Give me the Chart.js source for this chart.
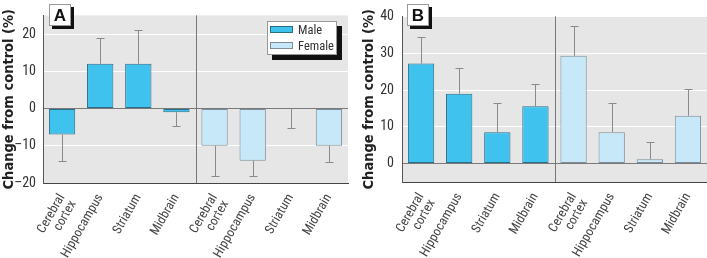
<!DOCTYPE html>
<html><head><meta charset="utf-8">
<script src="https://cdn.jsdelivr.net/npm/chart.js@4/dist/chart.umd.min.js"></script>
<style>
body{margin:0;background:#fff;width:707px;height:258px;overflow:hidden;position:relative;font-family:"Roboto Condensed","DejaVu Sans Condensed",sans-serif}
canvas{position:absolute;top:0}
#ca{left:0}
#cb{left:355px}
.tag{position:absolute;top:4px;width:20px;height:20px;background:#fff;border:1px solid #999;box-shadow:3px 3px 0 #111;font:bold 17px "Liberation Sans",Arial,sans-serif;text-align:center;line-height:21px;color:#111}
.legend{position:absolute;left:267px;top:21px;width:70px;height:34px;box-sizing:border-box;background:#fff;border:1px solid #999;box-shadow:5px 5px 0 #111;font-size:12.5px;color:#333}
.legend div{position:absolute;left:2px;height:16px;line-height:16px;white-space:nowrap}
.legend span{display:inline-block;width:21px;height:5px;border:1px solid #2b6c86;vertical-align:middle;margin-right:5px;position:relative;top:-1px}
</style></head>
<body>
<canvas id="ca" width="355" height="258"></canvas>
<canvas id="cb" width="352" height="258"></canvas>
<div class="tag" style="left:49px">A</div>
<div class="tag" style="left:407px">B</div>
<div class="legend">
 <div style="top:0px"><span style="background:#3fc3ee"></span>Male</div>
 <div style="top:16px"><span style="background:#c6e8f8;border-color:#7d8c96"></span>Female</div>
</div>
<script>
const regions = [['Cerebral','cortex'],'Hippocampus','Striatum','Midbrain'];
const maleA = [-7, 12, 12, -1];
const maleAErr = [-14, 19, 21, -4.7];
const femaleA = [-10, -14, 0, -10];
const femaleAErr = [-18, -18, -5.2, -14.3];
const maleB = [27.2, 19, 8.5, 15.6];
const maleBErr = [34.4, 26, 16.6, 21.7];
const femaleB = [29.3, 8.5, 1.2, 13];
const femaleBErr = [37.3, 16.6, 5.9, 20.2];
const ticksA = [-20, -10, 0, 10, 20];
const ticksB = [0, 10, 20, 30, 40];

const MALE = '#3fc3ee', MALE_B = '#2b6c86', FEM = '#c6e8f8', FEM_B = '#7d8c96';
const FONT = '"Roboto Condensed","DejaVu Sans Condensed",sans-serif';
const TFONT = '"DejaVu Sans Condensed","Roboto Condensed",sans-serif';

const panelPlugin = {
  id: 'panel',
  beforeDraw(chart) {
    const {ctx, chartArea: a} = chart;
    ctx.save(); ctx.fillStyle = '#e6e6e6';
    ctx.fillRect(a.left, a.top, a.right - a.left, a.bottom - a.top);
    ctx.restore();
  },
  beforeDatasetsDraw(chart) {
    const {ctx, chartArea: a} = chart;
    const x = chart.scales.x;
    const sx = (x.getPixelForValue(3) + x.getPixelForValue(4)) / 2;
    ctx.save(); ctx.strokeStyle = '#777'; ctx.lineWidth = 1;
    ctx.beginPath(); ctx.moveTo(Math.round(sx) + 0.5, a.top); ctx.lineTo(Math.round(sx) + 0.5, a.bottom); ctx.stroke();
    ctx.restore();
  },
  afterDatasetsDraw(chart) {
    const {ctx} = chart;
    const y = chart.scales.y;
    const meta = chart.getDatasetMeta(0);
    const vals = chart.data.datasets[0].data;
    const errs = chart.options.plugins.panel.err;
    ctx.save(); ctx.strokeStyle = '#8a8a8a'; ctx.lineWidth = 1;
    meta.data.forEach((bar, i) => {
      const x = Math.round(bar.x) + 0.5;
      const y0 = y.getPixelForValue(vals[i]);
      const y1 = Math.round(y.getPixelForValue(errs[i])) + 0.5;
      ctx.beginPath(); ctx.moveTo(x, y0); ctx.lineTo(x, y1);
      ctx.moveTo(x - 4, y1); ctx.lineTo(x + 4, y1); ctx.stroke();
    });
    ctx.restore();
  }
};

function makeChart(id, male, female, err, ticks, min, max, yW, xH, padR, titlePad, tickPad) {
  return new Chart(document.getElementById(id), {
    type: 'bar',
    data: {
      labels: regions.concat(regions),
      datasets: [{
        data: male.concat(female),
        backgroundColor: [MALE, MALE, MALE, MALE, FEM, FEM, FEM, FEM],
        borderColor: [MALE_B, MALE_B, MALE_B, MALE_B, FEM_B, FEM_B, FEM_B, FEM_B],
        borderWidth: 1,
        borderSkipped: false,
        categoryPercentage: 1,
        barPercentage: 0.69
      }]
    },
    options: {
      responsive: false, animation: false, devicePixelRatio: 1,
      layout: {padding: {top: 14, right: padR, left: 0, bottom: 0}},
      plugins: {legend: {display: false}, tooltip: {enabled: false}, panel: {err: err}},
      scales: {
        x: {
          grid: {display: false},
          border: {display: true, color: '#444', width: 1},
          ticks: {autoSkip: false, minRotation: 60, maxRotation: 60, padding: 1, color: '#444',
            font: {family: FONT, size: 13, lineHeight: 1.0}},
          afterFit(s) { s.height = xH; }
        },
        y: {
          min: min, max: max,
          afterBuildTicks(s) { s.ticks = ticks.map(v => ({value: v})); },
          grid: {drawTicks: false, color: c => (c.tick && c.tick.value === 0) ? '#7a7a7a' : '#ffffff', lineWidth: 1},
          border: {display: true, color: '#555', width: 1},
          ticks: {padding: tickPad, color: '#333', font: {family: FONT, size: 14},
            callback: v => String(v).replace('-', '\u2013')},
          title: {display: true, text: 'Change from control (%)', color: '#222',
            font: {family: TFONT, size: 14.5, weight: 'bold'}, padding: {top: titlePad, bottom: 0}},
          afterFit(s) { s.width = yW; }
        }
      }
    },
    plugins: [panelPlugin]
  });
}

makeChart('ca', maleA, femaleA, maleAErr.concat(femaleAErr), ticksA, -20, 25, 43, 75, 7, 1, 7);
makeChart('cb', maleB, femaleB, maleBErr.concat(femaleBErr), ticksB, -5, 40, 47, 76, 0, 6, 8);
</script>
</body></html>
